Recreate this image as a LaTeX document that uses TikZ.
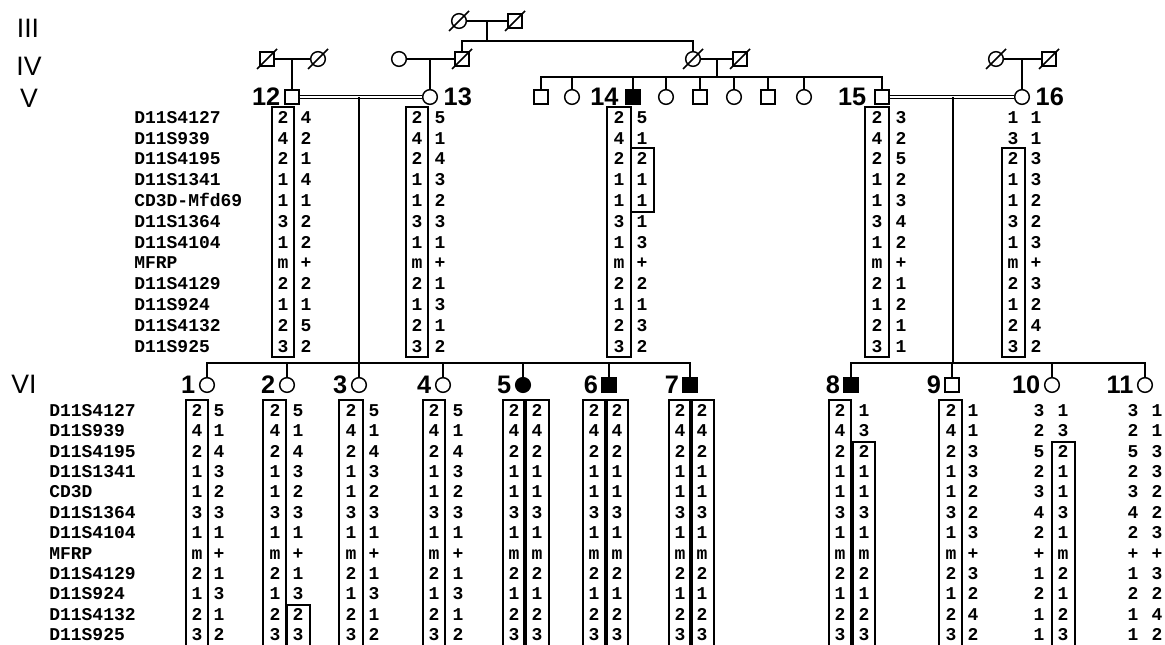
\documentclass[tikz,border=0pt]{standalone}
\usepackage{fontspec}
\setmainfont{Liberation Sans}
\newfontfamily\mono{Liberation Mono}
\usetikzlibrary{positioning}

% one column of alleles: name, x, first row, row step, values
\newcommand{\alcol}[5]{%
  \foreach \a [count=\i from 1] in {#5}
    \node[allele] (#1-\i) at (#2,{#3+(\i-1)*#4}) {\a};}
% haplotype frame
\newcommand{\hapbox}[4]{\draw[box] (#1,#2) rectangle (#3,#4);}

\begin{document}
\begin{tikzpicture}[x=0.75pt, y=-0.75pt,
  line/.style={line width=1.1pt},
  dline/.style={double, double distance=1.3pt, line width=1pt},
  box/.style={line width=1.1pt},
  male/.style={draw, rectangle, line width=1.1pt, minimum size=10.2pt, inner sep=0pt},
  female/.style={draw, circle, line width=1.1pt, minimum size=11pt, inner sep=0pt},
  aff/.style={fill=black},
  num/.style={font=\bfseries\fontsize{19}{19}\selectfont, inner sep=0pt, text height=13.5pt, text depth=0pt},
  gen/.style={font=\fontsize{20}{20}\selectfont, inner sep=0pt},
  marker/.style={font=\mono\bfseries\fontsize{13.5}{14}\selectfont, anchor=west, inner sep=0pt, text height=8pt, text depth=0pt},
  allele/.style={font=\mono\bfseries\fontsize{13.5}{14}\selectfont, inner sep=0pt, text height=8pt, text depth=0pt}
]
\useasboundingbox (0,0) rectangle (1165,645);

% generation labels
\node[gen] (gIII) at (28,28) {III};
\node[gen] (gIV) at (29,66) {IV};
\node[gen] (gV) at (29,98) {V};
\node[gen] (gVI) at (24,384) {VI};

% generation III
\node[female] (g3a) at (459,21) {};
\node[male] (g3b) at (515,21) {};

% generation IV
\node[male] (g4a) at (267,59) {};
\node[female] (g4b) at (318,59) {};
\node[female] (g4c) at (399,59) {};
\node[male] (g4d) at (462,59) {};
\node[female] (g4e) at (693,59) {};
\node[male] (g4f) at (740,59) {};
\node[female] (g4g) at (996,59) {};
\node[male] (g4h) at (1049,59) {};

% deceased
\foreach \n in {g3a,g3b,g4a,g4b,g4d,g4e,g4f,g4g,g4h}
  \draw[line] (\n.center) ++(-10,10) -- ++(20,-20);

% generation V
\node[male] (p12) at (292,97) {};
\node[female] (p13) at (430,97) {};
\node[male] (v1) at (541,97) {};
\node[female] (v2) at (572,97) {};
\node[male, aff] (p14) at (633,97) {};
\node[female] (v4) at (666,97) {};
\node[male] (v5) at (700,97) {};
\node[female] (v6) at (734,97) {};
\node[male] (v7) at (768,97) {};
\node[female] (v8) at (804,97) {};
\node[male] (p15) at (882,97) {};
\node[female] (p16) at (1022,97) {};

\node[num, left=3pt of p12] (l12) {12};
\node[num, right=4pt of p13] (l13) {13};
\node[num, left=5pt of p14] (l14) {14};
\node[num, left=6pt of p15] (l15) {15};
\node[num, right=4pt of p16] (l16) {16};

% generation VI
\node[female] (c1) at (207,385) {};
\node[female] (c2) at (287,385) {};
\node[female] (c3) at (359,385) {};
\node[female] (c4) at (443,385) {};
\node[female, aff] (c5) at (523,385) {};
\node[male, aff] (c6) at (609,385) {};
\node[male, aff] (c7) at (690,385) {};
\node[male, aff] (c8) at (851,385) {};
\node[male] (c9) at (952,385) {};
\node[female] (c10) at (1052,385) {};
\node[female] (c11) at (1145,385) {};

\foreach \i in {1,...,11}
  \node[num, left=2.5pt of c\i] (l\i) {\i};

% lines of descent
\coordinate (j3) at (487,21);
\coordinate (s3) at (487,41);
\draw[line] (g3a) -- (g3b);
\draw[line] (j3) -- (s3);
\draw[line] (g4d) |- (s3) -| (g4e);

\coordinate (j4a) at (292,59);
\coordinate (j4b) at (430,59);
\coordinate (j4c) at (717,59);
\coordinate (j4d) at (1022,59);
\coordinate (s5) at (717,77);
\draw[line] (g4a) -- (g4b);
\draw[line] (g4c) -- (g4d);
\draw[line] (g4e) -- (g4f);
\draw[line] (g4g) -- (g4h);
\draw[line] (j4a) -- (p12);
\draw[line] (j4b) -- (p13);
\draw[line] (j4d) -- (p16);
\draw[line] (j4c) -- (s5);
\draw[line] (v1) |- (s5) -| (p15);
\foreach \n in {v2,p14,v4,v5,v6,v7,v8}
  \draw[line] (\n) -- (\n |- s5);

\draw[dline] (p12) -- (p13);
\draw[dline] (p15) -- (p16);

\coordinate (u1) at (359,97);
\coordinate (s6a) at (359,363);
\coordinate (u2) at (953,97);
\coordinate (s6b) at (953,363);
\draw[line] (u1) -- (s6a);
\draw[line] (u2) -- (s6b);
\draw[line] (c1) |- (s6a) -| (c7);
\foreach \n in {c2,c3,c4,c5,c6}
  \draw[line] (\n) -- (\n |- s6a);
\draw[line] (c8) |- (s6b) -| (c11);
\foreach \n in {c9,c10}
  \draw[line] (\n) -- (\n |- s6b);

% markers, generation V
\foreach \m [count=\i from 1] in {D11S4127,D11S939,D11S4195,D11S1341,CD3D-Mfd69,D11S1364,D11S4104,MFRP,D11S4129,D11S924,D11S4132,D11S925}
  \node[marker] (mv\i) at (134,{118+(\i-1)*20.8}) {\m};

% haplotypes, generation V
\alcol{a12}{283}{118}{20.8}{2,4,2,1,1,3,1,m,2,1,2,3}
\alcol{b12}{306}{118}{20.8}{4,2,1,4,1,2,2,+,2,1,5,2}
\alcol{a13}{417}{118}{20.8}{2,4,2,1,1,3,1,m,2,1,2,3}
\alcol{b13}{440}{118}{20.8}{5,1,4,3,2,3,1,+,1,3,1,2}
\alcol{a14}{619}{118}{20.8}{2,4,2,1,1,3,1,m,2,1,2,3}
\alcol{b14}{642}{118}{20.8}{5,1,2,1,1,1,3,+,2,1,3,2}
\alcol{a15}{877}{118}{20.8}{2,4,2,1,1,3,1,m,2,1,2,3}
\alcol{b15}{901}{118}{20.8}{3,2,5,2,3,4,2,+,1,2,1,1}
\alcol{a16}{1013}{118}{20.8}{1,3,2,1,1,3,1,m,2,1,2,3}
\alcol{b16}{1036}{118}{20.8}{1,1,3,3,2,2,3,+,3,2,4,2}

\hapbox{272}{107}{294}{357}
\hapbox{406}{107}{428}{357}
\hapbox{607}{107}{631}{357}
\hapbox{631}{148}{654}{212}
\hapbox{865}{107}{889}{357}
\hapbox{1002}{148}{1025}{357}

% markers, generation VI
\foreach \m [count=\i from 1] in {D11S4127,D11S939,D11S4195,D11S1341,CD3D,D11S1364,D11S4104,MFRP,D11S4129,D11S924,D11S4132,D11S925}
  \node[marker] (mw\i) at (49,{411+(\i-1)*20.4}) {\m};

% haplotypes, generation VI
\alcol{a1}{197}{411}{20.4}{2,4,2,1,1,3,1,m,2,1,2,3}
\alcol{b1}{219}{411}{20.4}{5,1,4,3,2,3,1,+,1,3,1,2}
\alcol{a2}{275}{411}{20.4}{2,4,2,1,1,3,1,m,2,1,2,3}
\alcol{b2}{298}{411}{20.4}{5,1,4,3,2,3,1,+,1,3,2,3}
\alcol{a3}{351}{411}{20.4}{2,4,2,1,1,3,1,m,2,1,2,3}
\alcol{b3}{374}{411}{20.4}{5,1,4,3,2,3,1,+,1,3,1,2}
\alcol{a4}{434}{411}{20.4}{2,4,2,1,1,3,1,m,2,1,2,3}
\alcol{b4}{458}{411}{20.4}{5,1,4,3,2,3,1,+,1,3,1,2}
\alcol{a5}{514}{411}{20.4}{2,4,2,1,1,3,1,m,2,1,2,3}
\alcol{b5}{537}{411}{20.4}{2,4,2,1,1,3,1,m,2,1,2,3}
\alcol{a6}{594}{411}{20.4}{2,4,2,1,1,3,1,m,2,1,2,3}
\alcol{b6}{617}{411}{20.4}{2,4,2,1,1,3,1,m,2,1,2,3}
\alcol{a7}{680}{411}{20.4}{2,4,2,1,1,3,1,m,2,1,2,3}
\alcol{b7}{702}{411}{20.4}{2,4,2,1,1,3,1,m,2,1,2,3}
\alcol{a8}{840}{411}{20.4}{2,4,2,1,1,3,1,m,2,1,2,3}
\alcol{b8}{864}{411}{20.4}{1,3,2,1,1,3,1,m,2,1,2,3}
\alcol{a9}{951}{411}{20.4}{2,4,2,1,1,3,1,m,2,1,2,3}
\alcol{b9}{973}{411}{20.4}{1,1,3,3,2,2,3,+,3,2,4,2}
\alcol{a10}{1039}{411}{20.4}{3,2,5,2,3,4,2,+,1,2,1,1}
\alcol{b10}{1063}{411}{20.4}{1,3,2,1,1,3,1,m,2,1,2,3}
\alcol{a11}{1133}{411}{20.4}{3,2,5,2,3,4,2,+,1,2,1,1}
\alcol{b11}{1157}{411}{20.4}{1,1,3,3,2,2,3,+,3,2,4,2}

\hapbox{186}{400}{208}{650}
\hapbox{263}{400}{286}{650}
\hapbox{287}{605}{310}{650}
\hapbox{339}{400}{363}{650}
\hapbox{423}{400}{445}{650}
\hapbox{503}{400}{524}{650}
\hapbox{526}{400}{549}{650}
\hapbox{583}{400}{605}{650}
\hapbox{607}{400}{628}{650}
\hapbox{669}{400}{690}{650}
\hapbox{692}{400}{714}{650}
\hapbox{829}{400}{851}{650}
\hapbox{853}{442}{875}{650}
\hapbox{939}{400}{962}{650}
\hapbox{1052}{442}{1075}{650}

\end{tikzpicture}
\end{document}
